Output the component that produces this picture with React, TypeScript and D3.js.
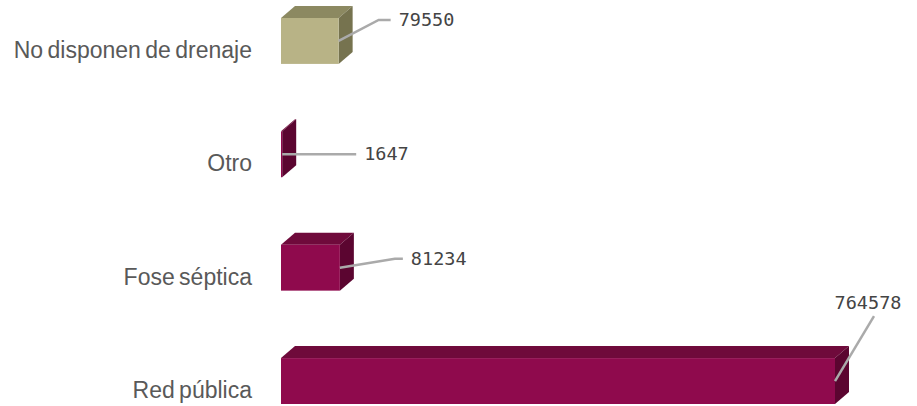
import { useRef, useEffect } from "react";
import * as d3 from "d3";

const categories = ["No disponen de drenaje", "Otro", "Fose séptica", "Red pública"];
const values = [79550, 1647, 81234, 764578];
const palette = ["khaki", "wine", "wine", "wine"];
// leader line bends for each value label (dx, dy from bar end), then horizontal run
const leaderBends: [number, number, number][] = [
  [40, -21, 12],
  [74, 0, 0],
  [55, -9, 8],
  [39, -65, 0],
];

const shades: Record<string, { front: string; top: string; side: string }> = {
  khaki: { front: "#b8b386", top: "#8c8961", side: "#76734f" },
  wine: { front: "#8f0a4d", top: "#6f0a3b", side: "#5b0530" },
};

const width = 917;
const height = 406;
const depthX = 14;
const depthY = -12;

const App = () => {
  const svgRef = useRef<SVGSVGElement>(null);

  useEffect(() => {
    if (!svgRef.current) {
      return;
    }
    const svg = d3.select(svgRef.current);
    const g = svg.append("g");

    const x = d3.scaleLinear().domain([0, 764578]).range([281, 835]);
    const y = d3
      .scaleBand<string>()
      .domain(categories)
      .range([18, 404])
      .paddingInner(0.595)
      .paddingOuter(0);

    categories.forEach((cat, i) => {
      const x0 = x(0);
      const x1 = x(values[i]);
      const y0 = y(cat) as number;
      const h = y.bandwidth();
      const c = shades[palette[i]];
      const pts = (p: [number, number][]) => p.map((d) => d.join(",")).join(" ");

      g.append("polygon")
        .attr("points", pts([[x0, y0], [x0 + depthX, y0 + depthY], [x1 + depthX, y0 + depthY], [x1, y0]]))
        .attr("fill", c.top);
      g.append("polygon")
        .attr("points", pts([[x1, y0], [x1 + depthX, y0 + depthY], [x1 + depthX, y0 + h + depthY], [x1, y0 + h]]))
        .attr("fill", c.side);
      g.append("rect")
        .attr("x", x0)
        .attr("y", y0)
        .attr("width", Math.max(0, x1 - x0))
        .attr("height", h)
        .attr("fill", c.front);

      // category label
      g.append("text")
        .attr("x", 252)
        .attr("y", y0 + h / 2 + 17)
        .attr("text-anchor", "end")
        .attr("font-family", "'Liberation Sans', Arial, sans-serif")
        .attr("font-size", 23)
        .attr("word-spacing", -2)
        .attr("fill", "#595959")
        .text(cat);

      // leader line + value label
      const [bx, by, run] = leaderBends[i];
      const sx = x1;
      const sy = y0 + h / 2;
      const line: [number, number][] = [
        [sx, sy],
        [sx + bx, sy + by],
        [sx + bx + run, sy + by],
      ];
      g.append("path")
        .attr("d", d3.line()(line))
        .attr("fill", "none")
        .attr("stroke", "#aaa")
        .attr("stroke-width", 2.5);

      const last = line[2];
      const vertical = Math.abs(by) > 40;
      g.append("text")
        .attr("x", vertical ? last[0] - 6 : last[0] + 8)
        .attr("y", vertical ? last[1] - 7 : last[1] + 6)
        .attr("text-anchor", vertical ? "middle" : "start")
        .attr("font-family", "'DejaVu Sans Mono', monospace")
        .attr("font-size", 18.5)
        .attr("fill", "#444")
        .text(String(values[i]));
    });

    return () => {
      g.remove();
    };
  }, []);

  return (
    <svg
      ref={svgRef}
      width={width}
      height={height}
      style={{ position: "absolute", left: 0, top: 0, background: "#fff" }}
    />
  );
};

export default App;
